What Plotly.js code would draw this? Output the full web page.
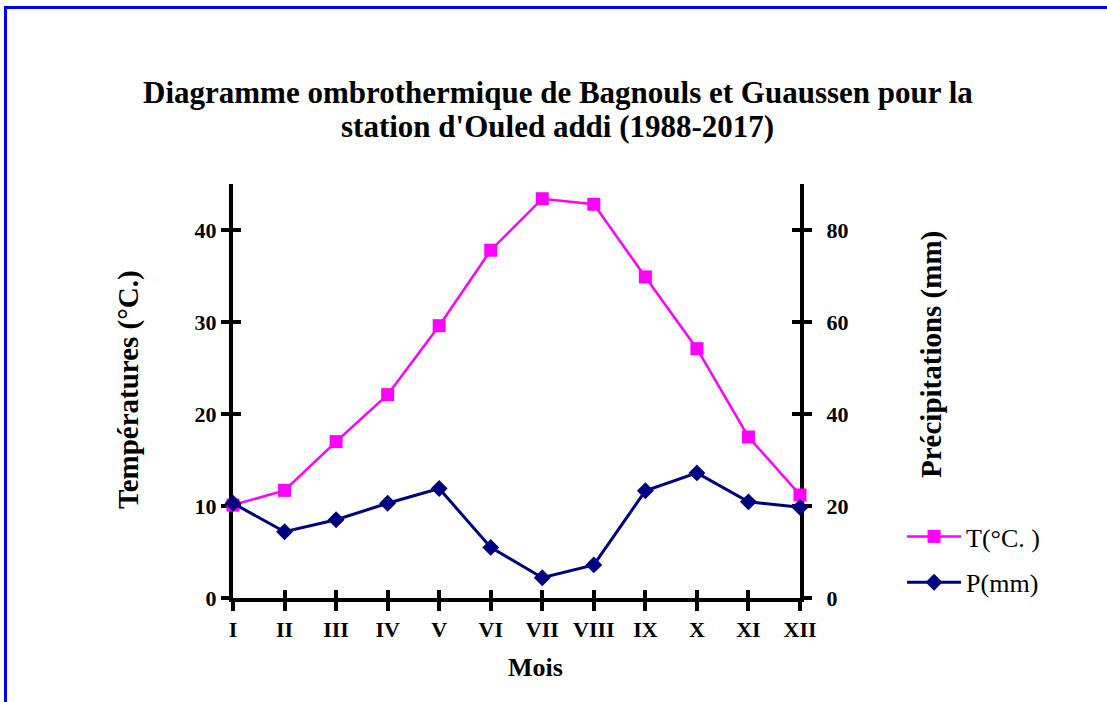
<!DOCTYPE html>
<html>
<head>
<meta charset="utf-8">
<script src="https://cdn.plot.ly/plotly-3.0.1.min.js"></script>
<style>
html,body{margin:0;padding:0;background:#fff;}
#frame{position:absolute;left:4px;top:6px;width:1103px;height:696px;border-top:3px solid #0000FF;border-left:3px solid #0000FF;box-sizing:border-box;}
#chart{position:absolute;left:0;top:0;width:1107px;height:702px;}
</style>
</head>
<body>
<div id="frame"></div>
<div id="chart"></div>
<script>
var months = ["I","II","III","IV","V","VI","VII","VIII","IX","X","XI","XII"];
var temperature = [10.1, 11.7, 17.0, 22.1, 29.6, 37.8, 43.4, 42.8, 34.9, 27.1, 17.5, 11.2];
var precipitation = [20.6, 14.4, 17.0, 20.6, 23.8, 11.0, 4.4, 7.2, 23.3, 27.2, 20.9, 19.7];
var tTicks = [0, 10, 20, 30, 40];
var pTicks = [0, 20, 40, 60, 80];
var titleLines = ["Diagramme ombrothermique de Bagnouls et Guaussen pour la", "station d'Ouled addi (1988-2017)"];

var serif = "Liberation Serif, Times New Roman, serif";

var traces = [
  {x: months, y: temperature, name: "T(°C. )", type: "scatter", mode: "lines+markers", legendgroup: "t",
   line: {color: "#FF00FF", width: 2.5}, marker: {symbol: "square", size: 13, color: "#FF00FF"},
   cliponaxis: false, xaxis: "x", yaxis: "y"},
  {x: months, y: precipitation, name: "P(mm)", type: "scatter", mode: "lines+markers", legendgroup: "p",
   line: {color: "#000080", width: 3}, marker: {symbol: "diamond", size: 13, color: "#000080"},
   cliponaxis: false, xaxis: "x", yaxis: "y2"}
];

var tickFont = {family: serif, size: 22, color: "#000", weight: "bold"};
var layout = {
  width: 1107, height: 702,
  paper_bgcolor: "rgba(0,0,0,0)", plot_bgcolor: "rgba(0,0,0,0)",
  margin: {l: 233, r: 307, t: 184, b: 104},
  showlegend: true,
  legend: {x: 1.18, y: 0.093, xanchor: "left", yanchor: "middle", font: {family: serif, size: 26, color: "#000"},
           bgcolor: "rgba(0,0,0,0)", traceorder: "grouped", tracegroupgap: 9, itemwidth: 54},
  annotations: [
    {text: "<b>" + titleLines[0] + "</b>", xref: "paper", yref: "paper", x: 0.573, y: 1.2222, xanchor: "center", yanchor: "middle",
     showarrow: false, font: {family: serif, size: 31, color: "#000"}},
    {text: "<b>" + titleLines[1] + "</b>", xref: "paper", yref: "paper", x: 0.573, y: 1.1377, xanchor: "center", yanchor: "middle",
     showarrow: false, font: {family: serif, size: 31, color: "#000"}},
    {text: "<b>Températures (°C.)</b>", xref: "paper", yref: "paper", x: -0.1852, y: 0.5048, xanchor: "center", yanchor: "middle",
     textangle: -90, showarrow: false, font: {family: serif, size: 29, color: "#000"}},
    {text: "<b>Précipitations (mm)</b>", xref: "paper", yref: "paper", x: 1.2328, y: 0.5894, xanchor: "center", yanchor: "middle",
     textangle: -90, showarrow: false, font: {family: serif, size: 29, color: "#000"}},
    {text: "<b>Mois</b>", xref: "paper", yref: "paper", x: 0.533, y: -0.169, xanchor: "center", yanchor: "middle",
     showarrow: false, font: {family: serif, size: 26, color: "#000"}}
  ],
  xaxis: {type: "category", range: [0, 11], showgrid: false, zeroline: false,
          showline: true, linecolor: "#000", linewidth: 4, ticks: "outside", ticklen: 9, tickwidth: 4, tickcolor: "#000",
          tickfont: tickFont, layer: "below traces"},
  xaxis2: {type: "category", range: [0, 11], overlaying: "x", showgrid: false, zeroline: false, showline: false,
           ticks: "inside", ticklen: 8, tickwidth: 4, tickcolor: "#000", showticklabels: false, layer: "below traces"},
  yaxis: {range: [0, 45], tickvals: tTicks, ticktext: tTicks.map(String), showgrid: false, zeroline: false,
          showline: true, linecolor: "#000", linewidth: 4, ticks: "outside", ticklen: 8, tickwidth: 4, tickcolor: "#000",
          tickfont: tickFont, layer: "below traces"},
  yaxis3: {range: [0, 45], tickvals: tTicks, overlaying: "y", side: "left", showgrid: false, zeroline: false, showline: false,
           ticks: "inside", ticklen: 8, tickwidth: 4, tickcolor: "#000", showticklabels: false, layer: "below traces"},
  yaxis2: {range: [0, 90], tickvals: pTicks, ticktext: pTicks.map(String), overlaying: "y", side: "right",
           showgrid: false, zeroline: false, showline: true, linecolor: "#000", linewidth: 4,
           ticks: "outside", ticklen: 8, tickwidth: 4, tickcolor: "#000", tickfont: tickFont, layer: "below traces",
           ticklabelstandoff: 10},
  yaxis4: {range: [0, 90], tickvals: pTicks, overlaying: "y", side: "right", showgrid: false, zeroline: false, showline: false,
           ticks: "inside", ticklen: 8, tickwidth: 4, tickcolor: "#000", showticklabels: false, layer: "below traces"}
};

// invisible helper traces so the inside-tick axes are drawn
traces.unshift({x: months, y: temperature, xaxis: "x2", yaxis: "y3", type: "scatter", mode: "none", showlegend: false, hoverinfo: "skip"});
traces.unshift({x: months, y: precipitation, xaxis: "x", yaxis: "y4", type: "scatter", mode: "none", showlegend: false, hoverinfo: "skip"});

Plotly.newPlot("chart", traces, layout, {displayModeBar: false, staticPlot: true});
</script>
</body>
</html>
